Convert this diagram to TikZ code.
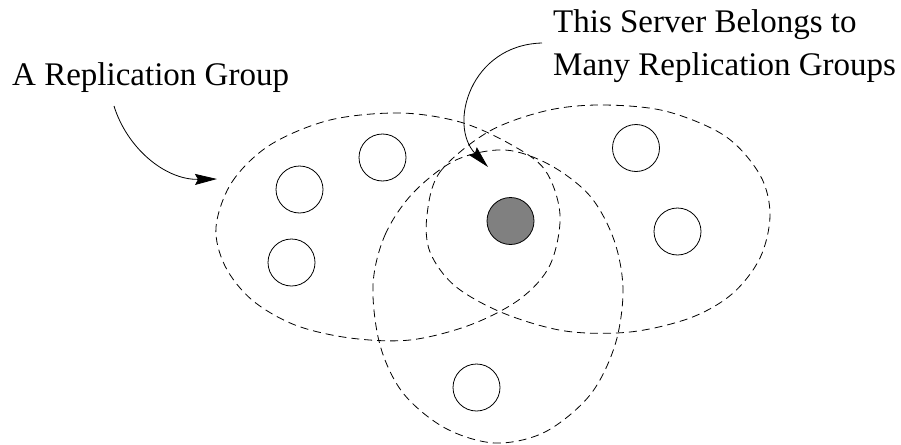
\documentclass[tikz,border=0pt]{standalone}
\usepackage{fontspec}
\setmainfont{Liberation Serif}
\usetikzlibrary{arrows.meta}
\begin{document}
\begin{tikzpicture}[x=1pt,y=-1pt,
  grp/.style={draw=black,line width=0.8pt,dash pattern=on 8pt off 5pt},
  srv/.style={draw=black,line width=0.8pt,circle,minimum size=47pt,inner sep=0pt},
  hub/.style={srv,fill=black!50},
  lbl/.style={inner sep=0pt,anchor=base west,font=\fontsize{33}{42}\selectfont},
  pointer/.style={draw=black,line width=0.8pt,-{Stealth[length=22pt,width=11pt,inset=3pt]}}]
\useasboundingbox (0,0) rectangle (901,444);

% group outlines
\draw[grp] plot[smooth cycle,tension=0.55] coordinates {
  (216,227) (232,182) (270,145) (330,120) (400,113) (460,122) (510,144)
  (545,170) (560,215) (550,265) (520,299) (470,325) (410,340) (350,338)
  (295,325) (252,300) (225,266)};
\draw[grp] plot[smooth cycle,tension=0.55] coordinates {
  (427,215) (440,172) (488,132) (545,111) (600,105) (665,111) (725,136)
  (760,175) (770,215) (760,258) (732,294) (690,318) (630,332) (565,331)
  (503,313) (455,286) (430,252)};
\draw[grp] plot[smooth cycle,tension=0.55] coordinates {
  (373,285) (385,235) (413,193) (456,160) (505,150) (550,165) (590,196)
  (614,240) (623,290) (615,345) (590,395) (545,432) (495,443) (445,428)
  (403,393) (380,345)};

% servers
\node[srv] (s1) at (299.5,189.5) {};
\node[srv] (s2) at (382.5,157.5) {};
\node[srv] (s3) at (291.5,262.5) {};
\node[hub] (s4) at (510.5,221) {};
\node[srv] (s5) at (636,148) {};
\node[srv] (s6) at (677.5,231.5) {};
\node[srv] (s7) at (476.5,387.5) {};

% labels
\node[lbl] (l1) at (12,85) {A Replication Group};
\node[lbl] (l2a) at (553,33) {This Server Belongs to};
\node[lbl] (l2b) at (553,75) {Many Replication Groups};

% pointers
\coordinate (p1s) at (114,106);
\coordinate (p1e) at (217,179);
\coordinate (p2s) at (542,43);
\coordinate (p2e) at (488,167);
\draw[pointer] (p1s) .. controls (127,148) and (165,180) .. (p1e);
\draw[pointer] (p2s) .. controls (470,45) and (448,125) .. (p2e);
\end{tikzpicture}
\end{document}
